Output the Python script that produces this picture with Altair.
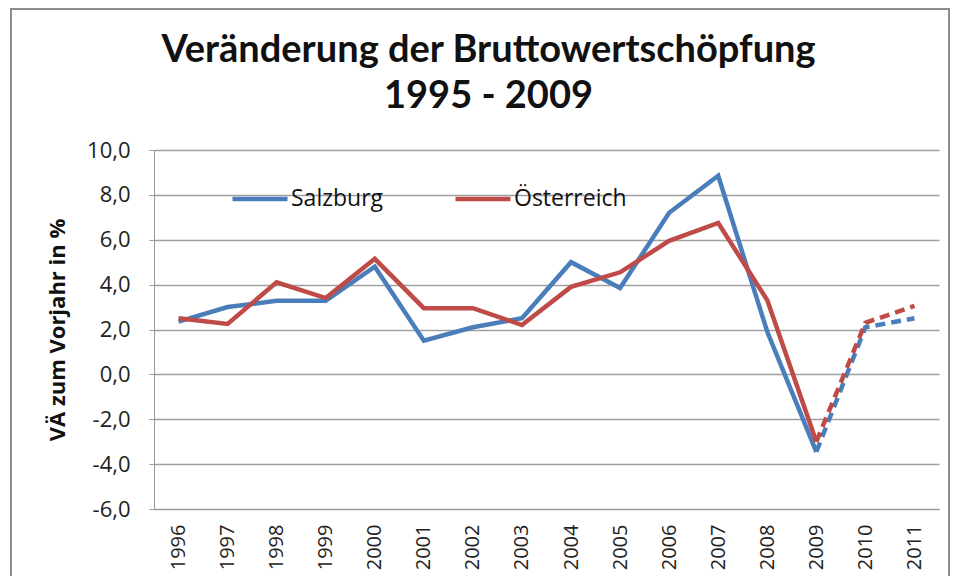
import altair as alt
import pandas as pd

years = [str(y) for y in range(1996, 2012)]
salzburg = [2.35, 3.0, 3.28, 3.28, 4.8, 1.5, 2.1, 2.5, 5.0, 3.85, 7.2, 8.85, 1.9, -3.45, 2.1, 2.5]
oesterreich = [2.5, 2.25, 4.1, 3.4, 5.15, 2.95, 2.95, 2.2, 3.9, 4.55, 5.95, 6.75, 3.3, -3.0, 2.3, 3.05]
series_names = ["Salzburg", "Österreich"]
series_colors = ["#4a7ebb", "#be4b48"]
last_actual = "2009"

rows = []
for name, vals in zip(series_names, [salzburg, oesterreich]):
    for y, v in zip(years, vals):
        rows.append({"Jahr": y, "Wert": v, "Serie": name})
df = pd.DataFrame(rows)
df_solid = df[df["Jahr"] <= last_actual]
df_dash = df[df["Jahr"] >= last_actual]

W, H = 785, 359

x_enc = alt.X("Jahr:O", sort=years, scale=alt.Scale(domain=years),
              axis=alt.Axis(title=None, labelAngle=-90, labelFontSize=20, labelFont="Open Sans",
                            labelColor="#222", labelPadding=15, labelAlign="right", labelBaseline="middle",
                            ticks=False, domainColor="#999", grid=False))
y_enc = alt.Y("Wert:Q", scale=alt.Scale(domain=[-6, 10], nice=False),
              axis=alt.Axis(title="VÄ zum Vorjahr in %", titleFontSize=22, titleFont="Open Sans",
                            titleFontWeight="bold", titleColor="#111", titlePadding=17,
                            values=list(range(-6, 11, 2)),
                            labelExpr="replace(replace(format(datum.value, '.1f'), '.', ','), '\u2212', '-')",
                            labelFontSize=22, labelFont="Open Sans", labelColor="#222",
                            labelPadding=19, tickSize=5, tickColor="#999",
                            domainColor="#999", gridColor="#a0a0a0", gridWidth=1.3))
color_enc = alt.Color("Serie:N", scale=alt.Scale(domain=series_names, range=series_colors),
                      legend=alt.Legend(title=None, orient="none", legendX=76, legendY=19,
                                        direction="horizontal", symbolType="stroke",
                                        symbolStrokeWidth=4.5, symbolSize=3025,
                                        labelFontSize=23, labelFont="Open Sans", labelColor="#111",
                                        columnPadding=62, labelOffset=1))

solid = alt.Chart(df_solid).mark_line(strokeWidth=4.5).encode(
    x=x_enc, y=y_enc, color=color_enc, detail="Serie:N")
dashed = alt.Chart(df_dash).mark_line(strokeWidth=4.5, strokeDash=[10, 6]).encode(
    x=x_enc, y=y_enc, color=alt.Color("Serie:N", scale=alt.Scale(domain=series_names, range=series_colors), legend=None),
    detail="Serie:N")

frame = alt.Chart(pd.DataFrame({"f": [0]})).mark_rect(fill=None, stroke="#8c8c8c", strokeWidth=2).encode(
    x=alt.value(-143), x2=alt.value(W + 10), y=alt.value(-141), y2=alt.value(H + 200))

chart = alt.layer(frame, solid, dashed).properties(
    width=W, height=H,
    autosize=alt.AutoSizeParams(type="none"),
    padding={"left": 146, "top": 142, "right": 11, "bottom": 67},
    title=alt.Title(["Veränderung der Bruttowertschöpfung", "1995 - 2009"],
                    fontSize=38, font="Lato", fontWeight="bold", color="#111",
                    anchor="middle", frame="group", dx=-58, offset=-108, lineHeight=46),
    background="white",
).configure_view(stroke=None)

chart.save("out.html", embed_options={"renderer": "svg", "actions": False})
